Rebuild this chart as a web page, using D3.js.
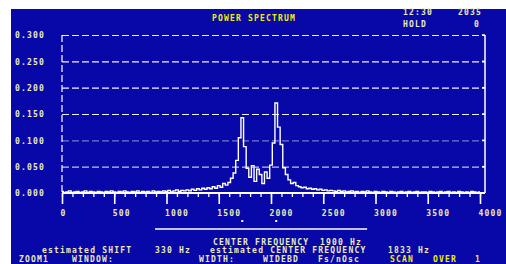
<!DOCTYPE html>
<html lang="en">
<head>
<meta charset="UTF-8" />
<title>Power Spectrum</title>
<script src="https://d3js.org/d3.v7.min.js"></script>
<style>
  body { margin: 0; padding: 0; background: #ffffff; }
  svg text {
    font-family: "DejaVu Sans Mono", monospace;
    font-weight: bold;
    font-size: 8px;
    letter-spacing: 1.2px;
  }
</style>
</head>
<body>
<svg width="506" height="264"></svg>
<script>
  // spectrum amplitude, one value per 25 Hz bin, 0 .. 4000 Hz
  const binHz = 25;
  const amplitude = [
    0.003, 0.001, 0.002, 0.004, 0.001, 0.002, 0.003, 0.001,
    0.002, 0.004, 0.001, 0.003, 0.002, 0.001, 0.003, 0.002,
    0.001, 0.003, 0.002, 0.004, 0.002, 0.001, 0.003, 0.002,
    0.004, 0.002, 0.001, 0.003, 0.002, 0.004, 0.001, 0.003,
    0.002, 0.003, 0.001, 0.004, 0.002, 0.003, 0.002, 0.004,
    0.003, 0.005, 0.002, 0.004, 0.006, 0.003, 0.005, 0.004,
    0.006, 0.004, 0.007, 0.005, 0.008, 0.006, 0.009, 0.007,
    0.010, 0.008, 0.012, 0.009, 0.014, 0.011, 0.018, 0.015,
    0.020, 0.028, 0.038, 0.062, 0.105, 0.143, 0.088, 0.047,
    0.030, 0.052, 0.022, 0.045, 0.035, 0.018, 0.040, 0.028,
    0.053, 0.095, 0.171, 0.125, 0.092, 0.048, 0.035, 0.025,
    0.018, 0.020, 0.014, 0.012, 0.010, 0.011, 0.008, 0.009,
    0.007, 0.008, 0.006, 0.007, 0.005, 0.006, 0.004, 0.005,
    0.004, 0.003, 0.005, 0.003, 0.004, 0.002, 0.003, 0.004,
    0.002, 0.003, 0.001, 0.003, 0.002, 0.004, 0.002, 0.001,
    0.003, 0.002, 0.001, 0.003, 0.002, 0.001, 0.003, 0.002,
    0.001, 0.002, 0.003, 0.001, 0.002, 0.003, 0.001, 0.002,
    0.003, 0.001, 0.002, 0.002, 0.001, 0.003, 0.002, 0.001,
    0.002, 0.003, 0.001, 0.002, 0.003, 0.001, 0.002, 0.001,
    0.003, 0.002, 0.001, 0.002, 0.001, 0.003, 0.002, 0.001,
    0.002
  ];

  const xTicks = [0, 500, 1000, 1500, 2000, 2500, 3000, 3500, 4000];
  const xMinorTicks = d3.range(0, 4001, 100);
  const yTicks = [0, 0.05, 0.1, 0.15, 0.2, 0.25, 0.3];
  const peakMarkers = [1725, 2050];
  const spanHz = [890, 2920];

  const bg = "#0808a8";
  const ink = "#ffffff";
  const label = "#ecebb8";
  const yellow = "#f2f000";

  const svg = d3.select("svg");

  // screen background (picture is cropped at top and left)
  svg.append("rect")
    .attr("x", 11).attr("y", 9)
    .attr("width", 495).attr("height", 255)
    .attr("fill", bg);

  const x = d3.scaleLinear().domain([0, 4000]).range([62, 480]);
  const y = d3.scaleLinear().domain([0, 0.3]).range([193, 35]);
  const right = x.range()[1] + 5;

  // horizontal grid + y labels
  const yAxis = svg.append("g")
    .attr("transform", `translate(${x(0)},0)`)
    .call(d3.axisLeft(y).tickValues(yTicks).tickFormat(d3.format(".3f"))
      .tickSize(-(right - x(0))).tickPadding(0));
  yAxis.select(".domain").remove();
  yAxis.selectAll(".tick line")
    .attr("stroke", ink)
    .attr("stroke-width", 1.2)
    .attr("stroke-dasharray", "7,3")
    .attr("opacity", (d) => (d === 0.1 ? 0.45 : d === 0.05 ? 0.75 : 0.95));
  yAxis.selectAll(".tick text")
    .attr("x", 15 - x(0))
    .attr("dy", "0.35em")
    .attr("text-anchor", "start")
    .attr("fill", label);

  // left dashed edge and right edge of frame
  svg.append("line")
    .attr("x1", x(0)).attr("x2", x(0))
    .attr("y1", y(0.3)).attr("y2", y(0))
    .attr("stroke", ink).attr("stroke-width", 1.2)
    .attr("stroke-dasharray", "7,3");
  svg.append("line")
    .attr("x1", right).attr("x2", right)
    .attr("y1", y(0.3)).attr("y2", y(0))
    .attr("stroke", ink).attr("stroke-width", 1.5);
  svg.append("g").selectAll("line")
    .data(yTicks)
    .join("line")
    .attr("x1", right - 3).attr("x2", right)
    .attr("y1", (d) => y(d)).attr("y2", (d) => y(d))
    .attr("stroke", ink).attr("stroke-width", 1.5);

  // x axis: minor and major ticks
  const xMinor = svg.append("g")
    .attr("transform", `translate(0,${y(0)})`)
    .call(d3.axisBottom(x).tickValues(xMinorTicks).tickSize(4).tickFormat(""));
  xMinor.select(".domain").remove();
  xMinor.selectAll(".tick line").attr("stroke", ink).attr("stroke-width", 1.3);

  const xAxis = svg.append("g")
    .attr("transform", `translate(0,${y(0)})`)
    .call(d3.axisBottom(x).tickValues(xTicks).tickSize(11).tickPadding(6)
      .tickFormat(d3.format("d")));
  xAxis.select(".domain").remove();
  xAxis.selectAll(".tick line").attr("stroke", ink).attr("stroke-width", 1.6);
  xAxis.selectAll(".tick text")
    .attr("text-anchor", "start")
    .attr("dx", -2)
    .attr("fill", label);

  svg.append("line")
    .attr("x1", x(0)).attr("x2", right)
    .attr("y1", y(0)).attr("y2", y(0))
    .attr("stroke", ink).attr("stroke-width", 2);

  // spectrum trace
  const line = d3.line()
    .x((d, i) => x(i * binHz))
    .y((d) => y(d))
    .curve(d3.curveStep);

  svg.append("path")
    .datum(amplitude)
    .attr("d", line)
    .attr("fill", "none")
    .attr("stroke", ink)
    .attr("stroke-width", 1.4);

  // peak markers and span bar
  svg.append("g").selectAll("rect")
    .data(peakMarkers)
    .join("rect")
    .attr("x", (d) => x(d) - 1).attr("y", 220)
    .attr("width", 2).attr("height", 2)
    .attr("fill", ink);

  svg.append("line")
    .attr("x1", x(spanHz[0])).attr("x2", x(spanHz[1]))
    .attr("y1", 229).attr("y2", 229)
    .attr("stroke", ink).attr("stroke-width", 1.6);

  // header text
  svg.append("text").attr("x", 254).attr("y", 21)
    .attr("text-anchor", "middle").attr("fill", yellow)
    .text("POWER SPECTRUM");

  const header = [
    { t: "12:30", x: 403, y: 15 },
    { t: "2035", x: 458, y: 15 },
    { t: "HOLD", x: 403, y: 27 },
    { t: "0", x: 474, y: 27 }
  ];
  svg.append("g").selectAll("text")
    .data(header)
    .join("text")
    .attr("x", (d) => d.x).attr("y", (d) => d.y)
    .attr("fill", label)
    .text((d) => d.t);

  // footer text
  const footer = [
    { t: "CENTER FREQUENCY", x: 213, y: 245, c: label },
    { t: "1900 Hz", x: 320, y: 245, c: label },
    { t: "estimated SHIFT", x: 42, y: 253, c: label },
    { t: "330 Hz", x: 155, y: 253, c: label },
    { t: "estimated CENTER FREQUENCY", x: 210, y: 253, c: label },
    { t: "1833 Hz", x: 388, y: 253, c: label },
    { t: "ZOOM1", x: 19, y: 262, c: label },
    { t: "WINDOW:", x: 72, y: 262, c: label },
    { t: "WIDTH:", x: 199, y: 262, c: label },
    { t: "WIDEBD", x: 263, y: 262, c: label },
    { t: "Fs/nOsc", x: 318, y: 262, c: label },
    { t: "SCAN", x: 390, y: 262, c: yellow },
    { t: "OVER", x: 433, y: 262, c: yellow },
    { t: "1", x: 475, y: 262, c: yellow }
  ];
  svg.append("g").selectAll("text")
    .data(footer)
    .join("text")
    .attr("x", (d) => d.x).attr("y", (d) => d.y)
    .attr("fill", (d) => d.c)
    .text((d) => d.t);
</script>
</body>
</html>
